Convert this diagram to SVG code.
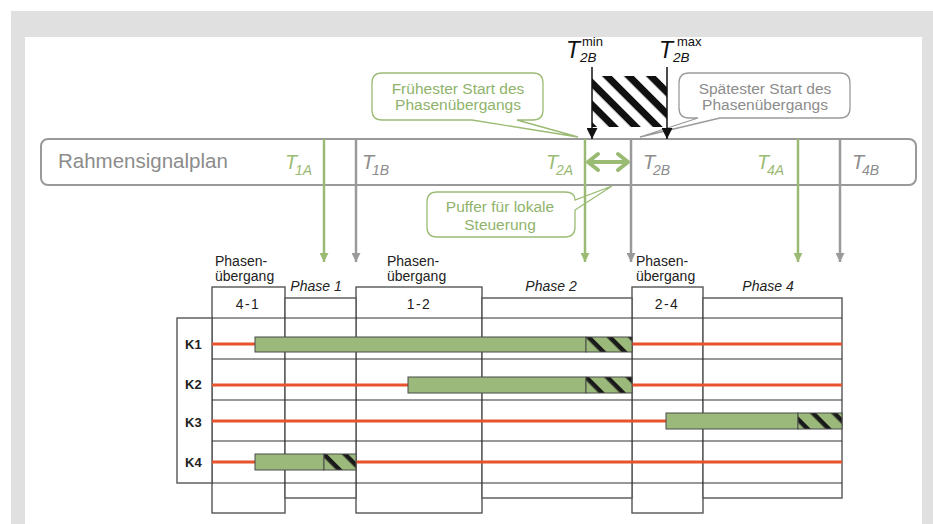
<svg xmlns="http://www.w3.org/2000/svg" width="933" height="524" viewBox="0 0 933 524">
<style>
.sans{font-family:"Liberation Sans",Arial,sans-serif}
.lbl{font-family:"Liberation Sans",Arial,sans-serif;font-size:14px;fill:#222}
.it{font-style:italic}
.tg{font-family:"Liberation Sans",Arial,sans-serif;font-style:italic;fill:#9bbb74}
.tgr{font-family:"Liberation Sans",Arial,sans-serif;font-style:italic;fill:#8c8c8c}
.cg{font-family:"Liberation Sans",Arial,sans-serif;font-size:15.5px;fill:#8fb36b;text-anchor:middle}
.cgr{font-family:"Liberation Sans",Arial,sans-serif;font-size:15.5px;fill:#8c8c8c;text-anchor:middle}
.k{font-family:"Liberation Sans",Arial,sans-serif;font-size:13px;font-weight:bold;fill:#222}
.tab{fill:#fff;stroke:#555;stroke-width:1.4}
.hl{stroke:#333;stroke-width:1.2}
.red{stroke:#e8522c;stroke-width:3}
.bar{fill:#9cb97c;stroke:#4a4a4a;stroke-width:1}
.hb{fill:url(#hatchS);stroke:#4a4a4a;stroke-width:1}
.gl{stroke:#9bbb74;stroke-width:2.5;fill:none}
.gyl{stroke:#9a9a9a;stroke-width:2.5;fill:none}
</style>
<defs>
<pattern id="hatchL" patternUnits="userSpaceOnUse" width="15.5" height="15.5" patternTransform="rotate(45 592 76)">
<rect width="15.5" height="15.5" fill="#fff"/>
<rect y="0" width="15.5" height="7" fill="#111"/>
</pattern>
<pattern id="hatchS" patternUnits="userSpaceOnUse" width="15" height="15" patternTransform="rotate(45)">
<rect width="15" height="15" fill="#9cb97c"/>
<rect y="0" width="15" height="4.5" fill="#1a1a1a"/>
</pattern>
<marker id="ag" viewBox="0 0 10 10" refX="10" refY="5" markerWidth="10" markerHeight="9" markerUnits="userSpaceOnUse" orient="auto">
<path d="M0,0 L10,5 L0,10 Z" fill="#9bbb74"/>
</marker>
<marker id="agr" viewBox="0 0 10 10" refX="10" refY="5" markerWidth="10" markerHeight="9" markerUnits="userSpaceOnUse" orient="auto">
<path d="M0,0 L10,5 L0,10 Z" fill="#9a9a9a"/>
</marker>
<marker id="ab" viewBox="0 0 10 10" refX="10" refY="5" markerWidth="11" markerHeight="11" markerUnits="userSpaceOnUse" orient="auto">
<path d="M0,0 L10,5 L0,10 Z" fill="#111"/>
</marker>
</defs>

<g id="background">
<rect x="0" y="0" width="933" height="524" fill="#fff"/>
<rect x="11" y="11" width="922" height="513" fill="#e0e0e0"/>
<rect x="25" y="37" width="897" height="487" fill="#fff"/>
</g>

<g id="tmin-tmax">
<rect x="592" y="76" width="75" height="51" fill="url(#hatchL)"/>
<text class="sans it" x="566" y="58" font-size="23" fill="#111">T</text>
<text class="sans" x="582" y="46" font-size="13" fill="#111">min</text>
<text class="sans it" x="580" y="62" font-size="13.5" fill="#111">2B</text>
<text class="sans it" x="659" y="58" font-size="23" fill="#111">T</text>
<text class="sans" x="677" y="46" font-size="13" fill="#111">max</text>
<text class="sans it" x="673" y="62" font-size="13.5" fill="#111">2B</text>
</g>

<g id="callout-frueh">
<path d="M382,73 H533 Q543,73 543,83 V110 Q543,120 533,120 H517 L578,137 L472,120 H382 Q372,120 372,110 V83 Q372,73 382,73 Z" fill="#fff" stroke="#9bbb74" stroke-width="1.3"/>
<text class="cg" x="458" y="94">Frühester Start des</text>
<text class="cg" x="458" y="110">Phasenübergangs</text>
</g>

<g id="callout-spaet">
<path d="M689,73 H840 Q850,73 850,83 V108 Q850,118 840,118 H720 L640,137 L698,118 H689 Q679,118 679,108 V83 Q679,73 689,73 Z" fill="#fff" stroke="#9a9a9a" stroke-width="1.3"/>
<text class="cgr" x="765" y="94">Spätester Start des</text>
<text class="cgr" x="765" y="110">Phasenübergangs</text>
</g>

<g id="rahmensignalplan">
<rect x="41" y="139" width="875" height="46" rx="7" fill="#fff" stroke="#999" stroke-width="2"/>
<text class="sans" x="58" y="168" font-size="20.5" fill="#8c8c8c">Rahmensignalplan</text>
<text class="tg" x="285" y="169" font-size="20">T</text><text class="tg" x="295" y="175" font-size="14">1A</text>
<text class="tgr" x="362" y="169" font-size="20">T</text><text class="tgr" x="372" y="175" font-size="14">1B</text>
<text class="tg" x="546" y="169" font-size="20">T</text><text class="tg" x="556" y="175" font-size="14">2A</text>
<text class="tgr" x="643" y="169" font-size="20">T</text><text class="tgr" x="653" y="175" font-size="14">2B</text>
<text class="tg" x="757" y="169" font-size="20">T</text><text class="tg" x="767" y="175" font-size="14">4A</text>
<text class="tgr" x="852" y="169" font-size="20">T</text><text class="tgr" x="862" y="175" font-size="14">4B</text>
</g>

<g id="callout-puffer">
<path d="M437,192 H565 Q575,192 575,200 L612,186 L575,210 V227 Q575,237 565,237 H437 Q427,237 427,227 V202 Q427,192 437,192 Z" fill="#fff" stroke="#9bbb74" stroke-width="1.3"/>
<text class="cg" x="500" y="212">Puffer für lokale</text>
<text class="cg" x="500" y="230">Steuerung</text>
</g>

<g id="table">
<rect class="tab" x="212" y="287" width="73" height="226"/>
<rect class="tab" x="356" y="287" width="126" height="226"/>
<rect class="tab" x="632" y="287" width="71" height="226"/>
<rect class="tab" x="285" y="298" width="71" height="200"/>
<rect class="tab" x="482" y="298" width="150" height="200"/>
<rect class="tab" x="703" y="298" width="139" height="200"/>
<rect class="tab" x="177" y="318" width="35" height="165"/>
<line class="hl" x1="212" y1="318" x2="842" y2="318"/>
<line class="hl" x1="212" y1="359" x2="842" y2="359"/>
<line class="hl" x1="212" y1="400" x2="842" y2="400"/>
<line class="hl" x1="212" y1="441" x2="842" y2="441"/>
<line class="hl" x1="212" y1="483" x2="842" y2="483"/>
<text class="lbl" x="215" y="266">Phasen-</text>
<text class="lbl" x="215" y="281">übergang</text>
<text class="lbl" x="387" y="266">Phasen-</text>
<text class="lbl" x="387" y="281">übergang</text>
<text class="lbl" x="636" y="266">Phasen-</text>
<text class="lbl" x="636" y="281">übergang</text>
<text class="lbl it" x="316" y="291" text-anchor="middle">Phase 1</text>
<text class="lbl it" x="551" y="291" text-anchor="middle">Phase 2</text>
<text class="lbl it" x="768" y="291" text-anchor="middle">Phase 4</text>
<text class="lbl" x="248" y="309" font-size="15" letter-spacing="1.5" text-anchor="middle">4-1</text>
<text class="lbl" x="419" y="309" font-size="15" letter-spacing="1.5" text-anchor="middle">1-2</text>
<text class="lbl" x="667" y="309" font-size="15" letter-spacing="1.5" text-anchor="middle">2-4</text>
</g>

<g id="K1">
<text class="k" x="185" y="349">K1</text>
<line class="red" x1="212" y1="344" x2="255" y2="344"/>
<line class="red" x1="632" y1="344" x2="842" y2="344"/>
<rect class="bar" x="255" y="337" width="331" height="15"/>
<rect class="hb" x="586" y="337" width="46" height="15"/>
</g>
<g id="K2">
<text class="k" x="185" y="389">K2</text>
<line class="red" x1="212" y1="385" x2="408" y2="385"/>
<line class="red" x1="632" y1="385" x2="842" y2="385"/>
<rect class="bar" x="408" y="377" width="178" height="16"/>
<rect class="hb" x="586" y="377" width="46" height="16"/>
</g>
<g id="K3">
<text class="k" x="185" y="427">K3</text>
<line class="red" x1="212" y1="421" x2="666" y2="421"/>
<rect class="bar" x="666" y="413" width="132" height="16"/>
<rect class="hb" x="798" y="413" width="44" height="16"/>
</g>
<g id="K4">
<text class="k" x="185" y="467">K4</text>
<line class="red" x1="212" y1="462" x2="255" y2="462"/>
<line class="red" x1="356" y1="462" x2="842" y2="462"/>
<rect class="bar" x="255" y="454" width="69" height="16"/>
<rect class="hb" x="324" y="454" width="32" height="16"/>
</g>

<g id="connectors">
<line class="gl" x1="324" y1="139" x2="324" y2="262" marker-end="url(#ag)"/>
<line class="gyl" x1="356" y1="139" x2="356" y2="262" marker-end="url(#agr)"/>
<line class="gl" x1="585" y1="139" x2="585" y2="262" marker-end="url(#ag)"/>
<line class="gyl" x1="631" y1="139" x2="631" y2="262" marker-end="url(#agr)"/>
<line class="gl" x1="798" y1="139" x2="798" y2="262" marker-end="url(#ag)"/>
<line class="gyl" x1="840" y1="139" x2="840" y2="262" marker-end="url(#agr)"/>
<line stroke="#111" stroke-width="1.5" x1="592" y1="67" x2="592" y2="139" marker-end="url(#ab)"/>
<line stroke="#111" stroke-width="1.5" x1="667" y1="67" x2="667" y2="139" marker-end="url(#ab)"/>
<g stroke="#9bbb74" stroke-width="4" fill="none" stroke-linecap="round" stroke-linejoin="round">
<line x1="589" y1="162" x2="627" y2="162"/>
<polyline points="598,154 588,162 598,170"/>
<polyline points="618,154 628,162 618,170"/>
</g>
</g>
</svg>
